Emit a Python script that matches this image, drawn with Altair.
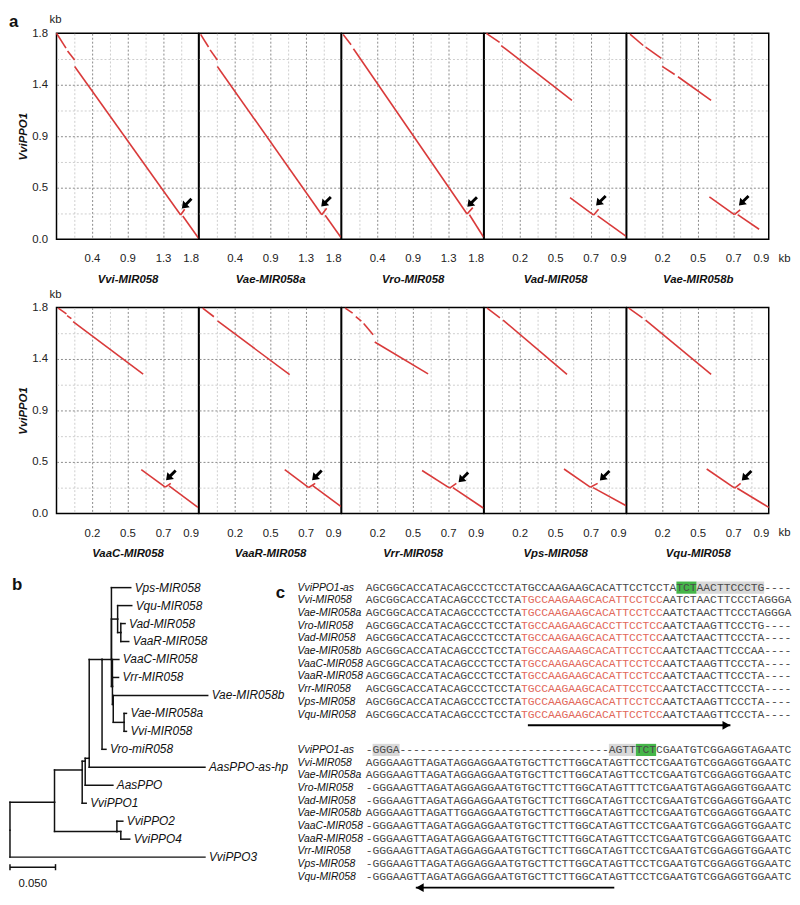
import json
import altair as alt
import pandas as pd

FONT = "Liberation Sans"
MONO = "Liberation Mono"
RED = "#D93A3A"
SEQ_GRAY = "#4a4a4a"
SEQ_RED = "#E2685A"

# ---------------- panel a: dot plots ----------------
PANEL_NAMES_TOP = ["Vvi-MIR058", "Vae-MIR058a", "Vro-MIR058", "Vad-MIR058", "Vae-MIR058b"]
PANEL_NAMES_BOTTOM = ["VaaC-MIR058", "VaaR-MIR058", "Vrr-MIR058", "Vps-MIR058", "Vqu-MIR058"]
Y_AXIS_TITLE = "VviPPO1"

X_TICKS_18 = [0.225, 0.45, 0.675, 0.9, 1.125, 1.35, 1.575, 1.8]
X_LABELS_18 = ["", "0.4", "", "0.9", "", "1.3", "", "1.8"]
X_TICKS_09 = [0.1125, 0.225, 0.3375, 0.45, 0.5625, 0.675, 0.7875, 0.9]
X_LABELS_09 = ["", "0.2", "", "0.5", "", "0.7", "", "0.9"]
Y_TICKS = [0.0, 0.225, 0.45, 0.675, 0.9, 1.125, 1.35, 1.575, 1.8]
Y_LABELS = ["0.0", "", "0.5", "", "0.9", "", "1.4", "", "1.8"]

# segments (x1, y1, x2, y2) in kb
SEG_VVI = [(0.00, 1.80, 0.12, 1.67), (0.14, 1.645, 0.23, 1.566), (0.23, 1.51, 1.573, 0.211),
           (1.573, 0.211, 1.624, 0.262), (1.60, 0.203, 1.80, 0.008)]
SEG_VAE_A = [(0.02, 1.79, 0.12, 1.68), (0.14, 1.655, 0.232, 1.566), (0.232, 1.51, 1.555, 0.214),
             (1.555, 0.214, 1.617, 0.27), (1.598, 0.209, 1.796, 0.017)]
SEG_VRO = [(0.02, 1.79, 0.12, 1.70), (0.15, 1.665, 1.59, 0.22),
           (1.59, 0.22, 1.662, 0.276), (1.62, 0.214, 1.80, 0.017)]
SEG_VAD = [(0.014, 1.80, 0.098, 1.72), (0.108, 1.693, 0.556, 1.214), (0.544, 0.363, 0.694, 0.211),
           (0.694, 0.211, 0.725, 0.262), (0.719, 0.203, 0.90, 0.025)]
SEG_VAE_B = [(0.021, 1.792, 0.105, 1.693), (0.12, 1.679, 0.22, 1.58), (0.225, 1.51, 0.304, 1.44),
             (0.325, 1.42, 0.535, 1.214), (0.524, 0.369, 0.682, 0.214), (0.682, 0.214, 0.719, 0.256),
             (0.703, 0.214, 0.839, 0.087)]
SEG_VAAC = [(0.011, 1.794, 0.063, 1.744), (0.067, 1.729, 0.094, 1.702), (0.105, 1.677, 0.549, 1.218),
            (0.537, 0.383, 0.689, 0.229), (0.689, 0.229, 0.724, 0.262), (0.713, 0.240, 0.896, 0.053)]
SEG_VAAR = [(0.023, 1.794, 0.094, 1.719), (0.117, 1.682, 0.574, 1.213), (0.543, 0.383, 0.695, 0.226),
            (0.695, 0.226, 0.736, 0.262), (0.72, 0.243, 0.90, 0.059)]
SEG_VRR = [(0.023, 1.794, 0.07, 1.75), (0.09, 1.72, 0.125, 1.68), (0.14, 1.66, 0.20, 1.562),
           (0.21, 1.498, 0.548, 1.22), (0.51, 0.375, 0.685, 0.221), (0.685, 0.221, 0.727, 0.262),
           (0.705, 0.225, 0.90, 0.045)]
SEG_VPS = [(0.019, 1.794, 0.10, 1.71), (0.12, 1.69, 0.525, 1.216), (0.506, 0.388, 0.672, 0.229),
           (0.672, 0.229, 0.719, 0.262), (0.69, 0.225, 0.90, 0.067)]
SEG_VQU = [(0.013, 1.794, 0.10, 1.71), (0.12, 1.69, 0.535, 1.216), (0.507, 0.388, 0.684, 0.221),
           (0.684, 0.221, 0.722, 0.262), (0.70, 0.22, 0.90, 0.053)]

ARROWS_TOP = [(1.66, 0.318), (1.62, 0.335), (1.665, 0.332), (0.745, 0.343), (0.747, 0.343)]
ARROWS_BOTTOM = [(0.73, 0.34), (0.752, 0.34), (0.777, 0.322), (0.769, 0.336), (0.765, 0.336)]

# ---------------- panel b: tree ----------------
TREE_NODE = ["root", "A", "VviPPO3", "P24", "VviPPO2", "Q", "VviPPO4", "B", "VviPPO1", "C",
             "AasPPO", "D", "AasPPO-as-hp", "E", "Vro-miR058", "F", "Vps-MIR058", "Qn", "Vqu-MIR058",
             "AR", "Vad-MIR058", "VaaR-MIR058", "F2", "VaaC-MIR058", "Vrr-MIR058", "F3",
             "Vae-MIR058b", "VV", "Vae-MIR058a", "Vvi-MIR058"]
TREE_PARENT = ["", "root", "root", "A", "P24", "P24", "Q", "A", "B", "B",
               "C", "C", "D", "D", "E", "E", "F", "F", "Qn",
               "Qn", "AR", "AR", "F", "F2", "F2", "F2",
               "F3", "F3", "VV", "VV"]
TREE_DEPTH = [0.0, 0.0489, 0.2141, 0.1174, 0.1239, 0.1217, 0.1315, 0.0793, 0.0837, 0.0826,
              0.1130, 0.0870, 0.2141, 0.1011, 0.1054, 0.1114, 0.1326, 0.1182, 0.1337,
              0.1217, 0.1264, 0.1304, 0.1125, 0.1196, 0.1192, 0.1134,
              0.2171, 0.1253, 0.1279, 0.1279]
TREE_ROW = [13.5, 11.95, 15, 13.57, 13, 13.57, 14, 10.15, 12, 9.66,
            11, 9.5, 10, 4.0, 9, 4.0, 0, 1.75, 1,
            2.5, 2, 3, 5.5, 4, 5, 6.5,
            6, 7.5, 7, 8]
SCALE_BAR = 0.05
SCALE_LABEL = "0.050"

# ---------------- panel c: alignment ----------------
ALN_NAMES = ["VviPPO1-as", "Vvi-MIR058", "Vae-MIR058a", "Vro-MIR058", "Vad-MIR058", "Vae-MIR058b",
             "VaaC-MIR058", "VaaR-MIR058", "Vrr-MIR058", "Vps-MIR058", "Vqu-MIR058"]
BLOCK1 = [
    "AGCGGCACCATACAGCCCTCCTATGCCAAGAAGCACATTCCTCCTATCTAACTTCCCTG----",
    "AGCGGCACCATACAGCCCTCCTATGCCAAGAAGCACATTCCTCCAATCTAACTTCCCTAGGGA",
    "AGCGGCACCATACAGCCCTCCTATGCCAAGAAGCACATTCCTCCAATCTAACTTCCCTAGGGA",
    "AGCGGCACCATACAGCCCTCCTATGCCAAGAAGCACCTTCCTCCAATCTAAGTTCCCTG----",
    "AGCGGCACCATACAGCCCTCCTATGCCAAGAAGCACATTCCTCCAATCTAACTTCCCTA----",
    "AGCGGCACCATACAGCCCTCCTATGCCAAGAAGCACATTCCTCCAATCTAACTTCCCAA----",
    "AGCGGCACCATACAGCCCTCCTATGCCAAGAAGCACATTCCTCCAATCTAAGTTCCCTA----",
    "AGCGGCACCATACAGCCCTCCTATGCCAAGAAGCACATTCCTCCAATCTAACTTCCCTA----",
    "AGCGGCACCATACAGCCCTCCTATGCCAAGAAGCACATTCCTCCAATCTACCTTCCCTA----",
    "AGCGGCACCATACAGCCCTCCTATGCCAAGAAGCACATTCCTCCAATCTAAGTTCCCTA----",
    "AGCGGCACCATACAGCCCTCCTATGCCAAGAAGCACATTCCTCCAATCTAAGTTCCCTA----",
]
BLOCK2 = [
    "-GGGA-------------------------------AGTTTCTCGAATGTCGGAGGTAGAATC",
    "AGGGAAGTTAGATAGGAGGAATGTGCTTCTTGGCATAGTTCCTCGAATGTCGGAGGTGGAATC",
    "AGGGAAGTTAGATAGGAGGAATGTGCTTCTTGGCATAGTTCCTCGAATGTCGGAGGTGGAATC",
    "-GGGAAGTTAGATAGGAGGAATGTGCTTCTTGGCATAGTTTCTCGAATGTAGGAGGTGGAATC",
    "-GGGAAGTTAGATAGGAGGAATGTGCTTCTTGGCATAGTTCCTCGAATGTCGGAGGTGGAATC",
    "AGGGAAGTTAGATTGGAGGAATGTGCTTCTTGGCATAGTTCCTCGAATGTCGGAGGTGGAATC",
    "-GGGAAGTTAGATAGGAGGAATGTGCTTCTTGGCATAGTTCCTCGAATGTCGGAGGTGGAATC",
    "-GGGAAGTTAGATAGGAGGAATGTGCTTCTTGGCATAGTTCCTCGAATGTCGGAGGTGGAATC",
    "-GGGAAGTTAGATAGGAGGAATGTGCTTCTTGGCATAGTTCCTCGAATGTCGGAGGTGGAATC",
    "-GGGAAGTTAGATAGGAGGAATGTGCTTCTTGGCATAGTTCCTCGAATGTCGGAGGTGGAATC",
    "-GGGAAGTTAGATAGGAGGAATGTGCTTCTTGGCATAGTTCCTCGAATGTCGGAGGTGGAATC",
]
MIRNA_COLS = (23, 43)          # red mature-miRNA region, rows 1-10 of block 1
HIGHLIGHTS = [  # (block, row, first col, last col, colour)
    (0, 0, 46, 48, "#45b649"), (0, 0, 49, 58, "#d9d9d9"),
    (1, 0, 1, 4, "#d9d9d9"), (1, 0, 36, 39, "#d9d9d9"), (1, 0, 40, 42, "#45b649"),
]
SEQ_ARROWS = [(0, 23.5, 53.5), (1, 36.3, 6.9)]  # (block, from col, to col)

# ---------------- layout constants ----------------
PANEL_W = 143.5
PANEL_H = 208
ROW_GAP = 69
ROW3_H = 315
PX_PER_UNIT = 920.0
TREE_X0 = -47                 # root position relative to the cell origin
TREE_ROW_PX = 18.15
TREE_TOP = 6.0
ALN_ROW_PX = 12.82
ALN_X0 = 168.5                # left edge of the alignment relative to its cell origin
ALN_COL_PX = 6.82
BLOCK_OFFSET = 12.79
ARROW_ROW = 10.85

ARROW_SHAPE = "M -1 1 L -0.78 -0.4 L -0.38 0.02 L 0.52 -0.88 L 0.88 -0.52 L -0.02 0.38 L 0.4 0.78 Z"


def lookup_expr(ticks, labels):
    return f"{json.dumps(labels)}[indexof({json.dumps(ticks)}, datum.value)]"


def grid_color(ticks, labels):
    major = [t for t, l in zip(ticks, labels) if l]
    return {"condition": {"test": f"indexof({json.dumps(major)}, datum.value) >= 0", "value": "#8a8a8a"},
            "value": "#cdcdcd"}


def grid_opacity(vmax):
    return {"condition": {"test": f"datum.value <= 0 || datum.value >= {vmax}", "value": 0}, "value": 1}


def text_layer(s, x, y, **kw):
    return alt.Chart(pd.DataFrame({"t": [s]})).mark_text(**kw).encode(
        text="t:N", x=alt.value(x), y=alt.value(y))


def make_panel(name, segs, arrow, xticks, xlabels, height, first, last, letter):
    xmax = xticks[-1]
    common = dict(domain=False, ticks=False, tickSize=0, gridDash=[2, 2], gridWidth=1,
                  labelFont=FONT, labelFontSize=11.5, labelColor="#222")
    x_axis = alt.Axis(values=xticks, labelExpr=lookup_expr(xticks, xlabels), labelPadding=20,
                      labelBaseline="middle", gridColor=grid_color(xticks, xlabels),
                      gridOpacity=grid_opacity(xmax), title=name, titleFont=FONT, titleFontSize=11.5,
                      titleFontWeight="bold", titleFontStyle="italic", titleX=PANEL_W / 2, titleY=41,
                      titleBaseline="middle", titleAlign="center", titleColor="#111", **common)
    if first:
        y_axis = alt.Axis(values=Y_TICKS, labelExpr=lookup_expr(Y_TICKS, Y_LABELS), labelPadding=9,
                          gridColor=grid_color(Y_TICKS, Y_LABELS), gridOpacity=grid_opacity(1.8),
                          title=Y_AXIS_TITLE, titleFont=FONT, titleFontSize=11.5, titleFontWeight="bold",
                          titleFontStyle="italic", titleX=-33.5, titleY=height / 2, titleAngle=270,
                          titleAlign="center", titleBaseline="middle", titleColor="#111", **common)
    else:
        y_axis = alt.Axis(values=Y_TICKS, labels=False, title=None,
                          gridColor=grid_color(Y_TICKS, Y_LABELS), gridOpacity=grid_opacity(1.8), **common)
    X = alt.X("x:Q", scale=alt.Scale(domain=[0, xmax], nice=False, zero=False), axis=x_axis)
    Y = alt.Y("y:Q", scale=alt.Scale(domain=[0, 1.8], nice=False, zero=False), axis=y_axis)
    df = pd.DataFrame(segs, columns=["x", "y", "x2", "y2"])
    layers = [
        alt.Chart(df).mark_rule(color=RED, strokeWidth=1.6).encode(x=X, y=Y, x2="x2:Q", y2="y2:Q"),
        alt.Chart(pd.DataFrame({"x": [arrow[0]], "y": [arrow[1]]})).mark_point(
            shape=ARROW_SHAPE, filled=True, color="black", size=130, opacity=1, strokeWidth=0
        ).encode(x=X, y=Y),
    ]
    if first:
        layers.append(text_layer("kb", -1, -13, font=FONT, fontSize=11.5, align="center",
                                 baseline="middle", color="#222"))
    if letter:
        layers.append(text_layer(letter, -48, -19, font=FONT, fontSize=17, fontWeight="bold",
                                 align="left", baseline="top", color="#111"))
    if last:
        layers.append(text_layer("kb", PANEL_W + 16, height + 20, font=FONT, fontSize=11.5,
                                 align="center", baseline="middle", color="#222"))
    return alt.layer(*layers).properties(
        width=PANEL_W, height=height, view=alt.ViewBackground(stroke="black", strokeWidth=1.5))


TOP_SEGS = [SEG_VVI, SEG_VAE_A, SEG_VRO, SEG_VAD, SEG_VAE_B]
BOT_SEGS = [SEG_VAAC, SEG_VAAR, SEG_VRR, SEG_VPS, SEG_VQU]
TOP_TICKS = [(X_TICKS_18, X_LABELS_18)] * 3 + [(X_TICKS_09, X_LABELS_09)] * 2

top_panels = []
for i in range(5):
    xt, xl = TOP_TICKS[i]
    top_panels.append(make_panel(PANEL_NAMES_TOP[i], TOP_SEGS[i], ARROWS_TOP[i], xt, xl, PANEL_H,
                                 i == 0, i == 4, "a" if i == 0 else None))
bot_panels = []
for i in range(5):
    bot_panels.append(make_panel(PANEL_NAMES_BOTTOM[i], BOT_SEGS[i], ARROWS_BOTTOM[i], X_TICKS_09,
                                 X_LABELS_09, PANEL_H, i == 0, i == 4, None))

# ---------------- tree chart ----------------
node_info = {n: (p, d, r) for n, p, d, r in zip(TREE_NODE, TREE_PARENT, TREE_DEPTH, TREE_ROW)}
edges = []
for n, (p, d, r) in node_info.items():
    if not p:
        continue
    pdp, prow = node_info[p][1], node_info[p][2]
    edges.append({"x": pdp, "x2": d, "y": r, "y2": r})
    edges.append({"x": pdp, "x2": pdp, "y": prow, "y2": r})
edges_df = pd.DataFrame(edges)
parents = set(TREE_PARENT)
leaves_df = pd.DataFrame([{"x": d, "y": r, "name": n} for n, (p, d, r) in node_info.items()
                          if n not in parents])

tree_y_lo = -TREE_TOP / TREE_ROW_PX
TX = alt.X("x:Q", scale=alt.Scale(domain=[0, 0.2], range=[TREE_X0, TREE_X0 + 0.2 * PX_PER_UNIT],
                                  nice=False, zero=False), axis=None)
TY = alt.Y("y:Q", scale=alt.Scale(domain=[tree_y_lo, tree_y_lo + ROW3_H / TREE_ROW_PX], reverse=True,
                                  nice=False, zero=False), axis=None)
bar_row = 15.56
bar_df = pd.DataFrame([
    {"x": 0, "x2": SCALE_BAR, "y": bar_row, "y2": bar_row},
    {"x": 0, "x2": 0, "y": bar_row - 0.17, "y2": bar_row + 0.17},
    {"x": SCALE_BAR, "x2": SCALE_BAR, "y": bar_row - 0.17, "y2": bar_row + 0.17},
])
tree = alt.layer(
    alt.Chart(edges_df).mark_rule(color="#111", strokeWidth=1.5, strokeCap="square").encode(
        x=TX, y=TY, x2="x2:Q", y2="y2:Q"),
    alt.Chart(leaves_df).mark_text(align="left", baseline="middle", dx=4, font=FONT, fontSize=12,
                                   fontStyle="italic", color="#111").encode(x=TX, y=TY, text="name:N"),
    alt.Chart(bar_df).mark_rule(color="#111", strokeWidth=1.5).encode(x=TX, y=TY, x2="x2:Q", y2="y2:Q"),
    alt.Chart(pd.DataFrame({"x": [SCALE_BAR / 2], "y": [16.49], "t": [SCALE_LABEL]})).mark_text(
        font=FONT, fontSize=11.5, baseline="middle", color="#111").encode(x=TX, y=TY, text="t:N"),
    text_layer("b", -45, -5, font=FONT, fontSize=17, fontWeight="bold", align="left", baseline="top",
               color="#111"),
).properties(width=PANEL_W, height=ROW3_H)

# ---------------- alignment chart ----------------
chars = []
for b, block in enumerate([BLOCK1, BLOCK2]):
    for i, seq in enumerate(block):
        for j, ch in enumerate(seq):
            red = (b == 0 and i > 0 and MIRNA_COLS[0] <= j <= MIRNA_COLS[1])
            chars.append({"x": j, "y": i + b * BLOCK_OFFSET, "ch": ch, "c": SEQ_RED if red else SEQ_GRAY})
chars_df = pd.DataFrame(chars)
names_df = pd.DataFrame([{"y": i + b * BLOCK_OFFSET, "name": n} for b in range(2)
                         for i, n in enumerate(ALN_NAMES)])
hl_df = pd.DataFrame([{"x": c0 - 0.5, "x2": c1 + 0.5, "y": r + b * BLOCK_OFFSET - 0.48,
                       "y2": r + b * BLOCK_OFFSET + 0.48, "c": col} for b, r, c0, c1, col in HIGHLIGHTS])
arr_line = pd.DataFrame([{"x": a, "x2": z, "y": ARROW_ROW + b * BLOCK_OFFSET,
                          "y2": ARROW_ROW + b * BLOCK_OFFSET} for b, a, z in SEQ_ARROWS])
arr_head = pd.DataFrame([{"x": z - 0.6 if z > a else z + 0.6, "y": ARROW_ROW + b * BLOCK_OFFSET,
                          "s": "triangle-right" if z > a else "triangle-left"} for b, a, z in SEQ_ARROWS])

aln_y_lo = -TREE_TOP / ALN_ROW_PX
AX = alt.X("x:Q", scale=alt.Scale(domain=[-0.5, 62.5], range=[ALN_X0, ALN_X0 + 63 * ALN_COL_PX],
                                  nice=False, zero=False), axis=None)
AY = alt.Y("y:Q", scale=alt.Scale(domain=[aln_y_lo, aln_y_lo + ROW3_H / ALN_ROW_PX], reverse=True,
                                  nice=False, zero=False), axis=None)
aln = alt.layer(
    alt.Chart(hl_df).mark_rect().encode(x=AX, y=AY, x2="x2:Q", y2="y2:Q",
                                        color=alt.Color("c:N", scale=None)),
    alt.Chart(chars_df).mark_text(font=MONO, fontSize=11.5, baseline="middle", align="center").encode(
        x=AX, y=AY, text="ch:N", color=alt.Color("c:N", scale=None)),
    alt.Chart(names_df).mark_text(font=FONT, fontSize=10.5, fontStyle="italic", align="left",
                                  baseline="middle", color="#111").encode(
        x=alt.value(ALN_X0 - 69), y=AY, text="name:N"),
    alt.Chart(arr_line).mark_rule(color="black", strokeWidth=2).encode(x=AX, y=AY, x2="x2:Q", y2="y2:Q"),
    alt.Chart(arr_head).mark_point(filled=True, color="black", size=80, opacity=1).encode(
        x=AX, y=AY, shape=alt.Shape("s:N", scale=None)),
    text_layer("c", ALN_X0 - 91, 3, font=FONT, fontSize=17, fontWeight="bold", align="left",
               baseline="top", color="#111"),
).properties(width=PANEL_W, height=ROW3_H)

chart = alt.concat(
    *top_panels, *bot_panels, tree, aln,
    columns=5, spacing={"row": ROW_GAP, "column": 0}, bounds="flush", align="none",
).configure(font=FONT, padding=0).configure_view(stroke=None)

chart.save("out.html", embed_options={"renderer": "svg", "actions": False})
